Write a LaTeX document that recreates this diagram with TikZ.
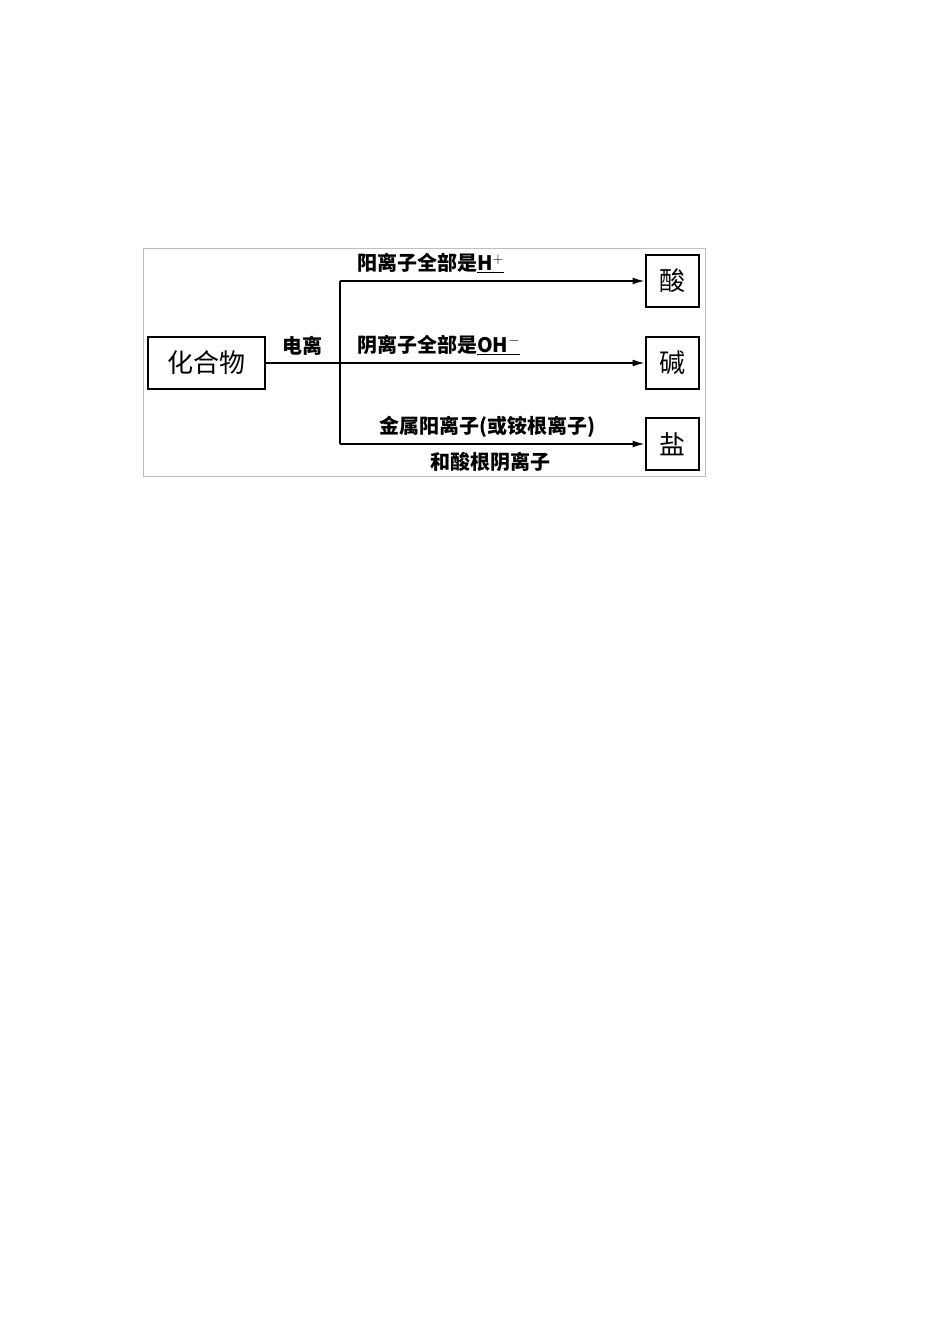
\documentclass[tikz,border=0pt]{standalone}
\usepackage{fontspec}
\newfontfamily\cjk{Noto Sans CJK SC}
\usetikzlibrary{arrows.meta}
\begin{document}
\begin{tikzpicture}[x=1pt,y=-1pt,
  box/.style={draw,line width=2pt,inner sep=0pt,font=\cjk\fontsize{26}{26}\selectfont},
  lab/.style={font=\cjk\bfseries\fontsize{20}{22}\selectfont,inner sep=0pt},
  conn/.style={line width=1.5pt},
  arr/.style={conn,-{Latex[length=12pt,width=7pt]}}]
\useasboundingbox (0,0) rectangle (950,1344);
\draw[gray!50,line width=0.8pt] (143,248) rectangle (705,476);
\node[box,minimum width=117pt,minimum height=52pt] (c) at (206,363) {化合物};
\node[box,minimum width=53pt,minimum height=52pt] (s) at (672,281) {酸};
\node[box,minimum width=53pt,minimum height=52pt] (j) at (672,363) {碱};
\node[box,minimum width=53pt,minimum height=52pt] (y) at (672,444) {盐};
\coordinate (b) at (340,363);
\coordinate (bt) at (340,281);
\coordinate (bb) at (340,444);
\draw[conn] (c.east) -- (b);
\draw[conn] (bt) -- (bb);
\draw[arr] (bt) -- (s.west);
\draw[arr] (b) -- (j.west);
\draw[arr] (bb) -- (y.west);
\node[lab] (l0) at (302,346) {电离};
\node[lab,anchor=west] (l1) at (357,263) {阳离子全部是\underline{H$^{+}$}};
\node[lab,anchor=west] (l2) at (357,345) {阴离子全部是\underline{OH$^{-}$}};
\node[lab] (l3) at (487,427) {金属阳离子(或铵根离子)};
\node[lab] (l4) at (490,462) {和酸根阴离子};
\end{tikzpicture}
\end{document}
